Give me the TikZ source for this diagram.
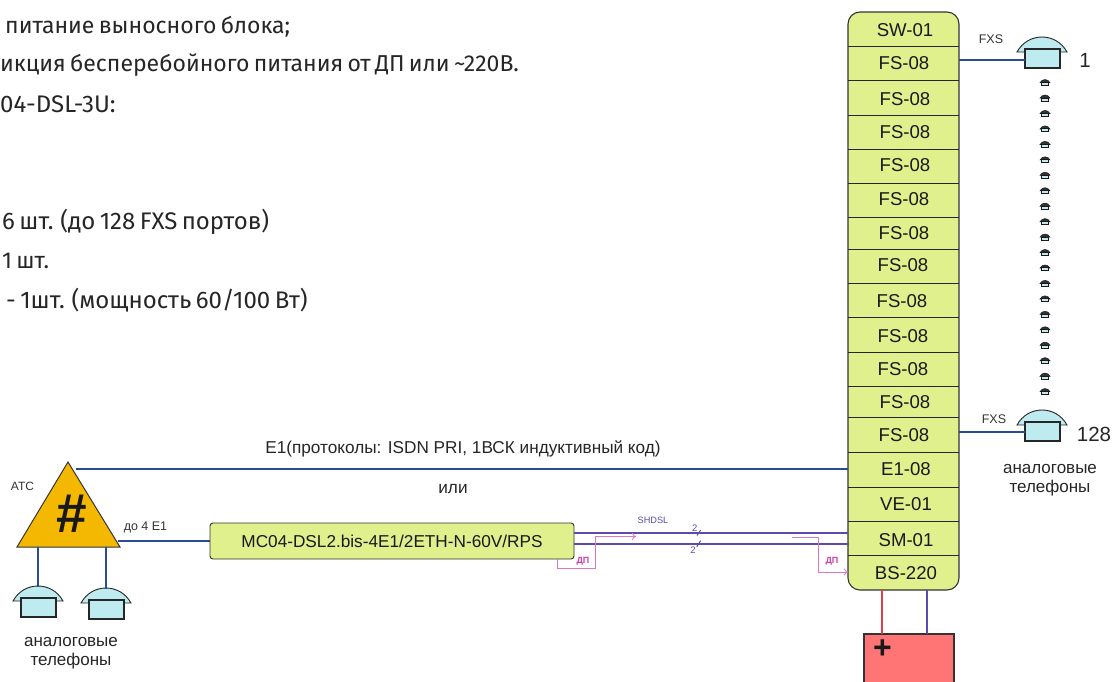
\documentclass[tikz,border=0pt]{standalone}
\usepackage{fontspec}
\usetikzlibrary{arrows.meta}
\setmainfont{Liberation Sans}
\newfontfamily\cyrfont[WordSpace=0.7]{Fira Sans}
\definecolor{rackfill}{HTML}{E0F08C}
\definecolor{wireblue}{HTML}{2A4B92}
\definecolor{wirevio}{HTML}{5B4BAF}
\definecolor{phonefill}{HTML}{BEEBF0}
\definecolor{pink}{HTML}{D03CA8}
\definecolor{atsfill}{HTML}{F5B800}
\definecolor{batfill}{HTML}{FF7575}
\definecolor{redwire}{HTML}{E0404A}
\tikzset{
 x=1pt,y=-1pt,
 slot/.style={font=\fontsize{18.6}{18.6}\selectfont,text=black!90,inner sep=0pt},
 tiny/.style={font=\fontsize{12.5}{12.5}\selectfont,text=black!80,inner sep=0pt},
 lead/.style={font=\cyrfont\fontsize{23}{23}\selectfont,text=black!85,inner sep=0pt,anchor=base west},
 leadbig/.style={font=\cyrfont\fontsize{24}{24}\selectfont,text=black!85,inner sep=0pt,anchor=base west},
 wire/.style={wireblue,line width=1.3pt},
 vio/.style={wirevio,line width=1.4pt},
 dp/.style={pink!70,line width=.8pt},
 dplab/.style={font=\fontsize{9}{9}\selectfont\bfseries,text=pink,inner sep=0pt},
 phone/.pic={
  \draw[black!85,fill=phonefill,line width=.9pt] (-25,15) .. controls (-14,-5) and (14,-5) .. (25,15) -- cycle;
  \draw[black!85,fill=phonefill,line width=1.2pt] (-17,12) rectangle (18,31);
  \draw[black!85,line width=1.8pt] (-17,12) -- (18,12);
 },
 miniphone/.pic={
  \draw[black!90,fill=black!80,line width=.5pt] (-5,1.2) .. controls (-3,-3) and (3,-3) .. (5,1.2) -- cycle;
  \draw[black!90,fill=phonefill,line width=.9pt] (-3.3,1) rectangle (3.3,4);
 }
}
\begin{document}
\begin{tikzpicture}
\useasboundingbox (0,0) rectangle (1114,681);
\fill[white] (0,0) rectangle (1114,681);
% lead text
\node[lead] (t1) at (5,33) {питание выносного блока;};
\node[lead] (t2) at (0,71) {икция бесперебойного питания от ДП или \string~220В.};
\node[leadbig] (t3) at (0,112) {04-DSL-3U:};
\node[leadbig] (t4) at (2,229) {6 шт. (до 128 FXS портов)};
\node[lead] (t5) at (2,268) {1 шт.};
\node[leadbig] (t6) at (6,308) {- 1шт. (мощность 60/100 Вт)};
% rack
\draw[fill=rackfill,draw=black!80,line width=1.1pt,rounded corners=12pt] (848,12) rectangle (959,590);
\foreach \yy in {46,80,115,149,183,217,249,283,317,352,386,417,452,487,521,555}
  \draw[black!85,line width=.9pt] (848,\yy) -- (959,\yy);
\node[slot] (sw) at (905,30) {SW-01};
\node[slot] (fs1) at (904,63) {FS-08};
\node[slot] (fs2) at (905,99) {FS-08};
\node[slot] (fs3) at (905,132) {FS-08};
\node[slot] (fs4) at (905,165) {FS-08};
\node[slot] (fs5) at (904,199) {FS-08};
\node[slot] (fs6) at (904,233) {FS-08};
\node[slot] (fs7) at (903,265) {FS-08};
\node[slot] (fs8) at (902,301) {FS-08};
\node[slot] (fs9) at (903,336) {FS-08};
\node[slot] (fs10) at (903,369) {FS-08};
\node[slot] (fs11) at (905,402) {FS-08};
\node[slot] (fs13) at (904,435) {FS-08};
\node[slot] (e1) at (906,469) {E1-08};
\node[slot] (ve) at (906,504) {VE-01};
\node[slot] (sm) at (906,540) {SM-01};
\node[slot] (bs) at (906,573) {BS-220};
% phones
\pic at (1042,37) {phone};
\pic at (1042,410) {phone};
\foreach \yy in {0,...,20}
  \pic at (1045,81.5+15.45*\yy) {miniphone};
\draw[wire] (959,60) -- (1025,60);
\draw[wire] (959,432) -- (1025,432);
\node[tiny] at (991,39.5) {FXS};
\node[tiny] at (994,419) {FXS};
\node[font=\fontsize{20.5}{20.5}\selectfont,text=black!85,inner sep=0pt] at (1085,60) {1};
\node[font=\fontsize{20.5}{20.5}\selectfont,text=black!85,inner sep=0pt] at (1094,434) {128};
\node[align=center,font=\fontsize{17}{19.5}\selectfont,text=black!85,inner sep=0pt] at (1050,480) {аналоговые\\телефоны};
% ATS
\draw[black!80,fill=atsfill,line width=1pt] (68,462) -- (120,547) -- (17,547) -- cycle;
\node[inner sep=0pt,font=\fontsize{55}{55}\selectfont\bfseries,text=black!90] (hash) at (72,514) {\#};
\node[tiny,font=\fontsize{12}{12}\selectfont] at (22.5,486) {АТС};
\draw[wire] (76,469) -- (848,469);
\node[font=\fontsize{17.2}{17.2}\selectfont,text=black!85,inner sep=0pt] at (463,449) {E1(протоколы: ISDN PRI, 1ВСК индуктивный код)};
\node[font=\fontsize{17.2}{17.2}\selectfont,text=black!85,inner sep=0pt] at (453,489) {или};
\node[tiny] at (145.5,527) {до 4 E1};
\draw[wire] (118,541) -- (210,541);
\node[draw=black!80,fill=rackfill,line width=.9pt,rounded corners=3pt,minimum width=364pt,minimum height=36pt,inner sep=0pt,font=\fontsize{17.2}{17.2}\selectfont,text=black!90] (mc) at (392,541) {MC04-DSL2.bis-4E1/2ETH-N-60V/RPS};
\pic at (38,586) {phone};
\pic at (106,588) {phone};
\draw[wire] (38,547) -- (38,587);
\draw[wire] (106,547) -- (106,589);
\node[align=center,font=\fontsize{17}{19.5}\selectfont,text=black!85,inner sep=0pt] at (71,653) {аналоговые\\телефоны};
% SHDSL
\draw[vio] (574,533) -- (848,533);
\draw[vio] (574,544) -- (849,544);
\draw[wirevio,line width=1pt] (697,535.5) -- (700.7,530);
\draw[wirevio,line width=1pt] (696.7,546.7) -- (700.7,540.7);
\node[font=\fontsize{9.2}{9.2}\selectfont,text=wirevio,inner sep=0pt] at (653,520) {SHDSL};
\node[font=\fontsize{9.5}{9.5}\selectfont,text=wirevio,inner sep=0pt] at (694.7,528) {2};
\node[font=\fontsize{9.5}{9.5}\selectfont,text=wirevio,inner sep=0pt] at (693,550) {2};
% DP
\draw[dp,-{To[length=4pt,width=7pt]}] (557,559) -- (557,568.5) -- (595,568.5) -- (595,536.5) -- (636,536.5);
\draw[dp,-{To[length=4pt,width=7pt]}] (792,537) -- (818,537) -- (818,572) -- (848,572);
\node[dplab] at (583,561) {ДП};
\node[dplab] at (832,561) {ДП};
% battery
\draw[black!80,fill=batfill,line width=1.4pt] (864,634) rectangle (954,690);
\draw[redwire,line width=1.2pt] (882,590) -- (882,634);
\draw[wirevio,line width=1.3pt] (927,590) -- (927,634);
\node[inner sep=0pt,font=\fontsize{32}{32}\selectfont\bfseries,text=black!90] at (882.5,649) {+};
\end{tikzpicture}
\end{document}
